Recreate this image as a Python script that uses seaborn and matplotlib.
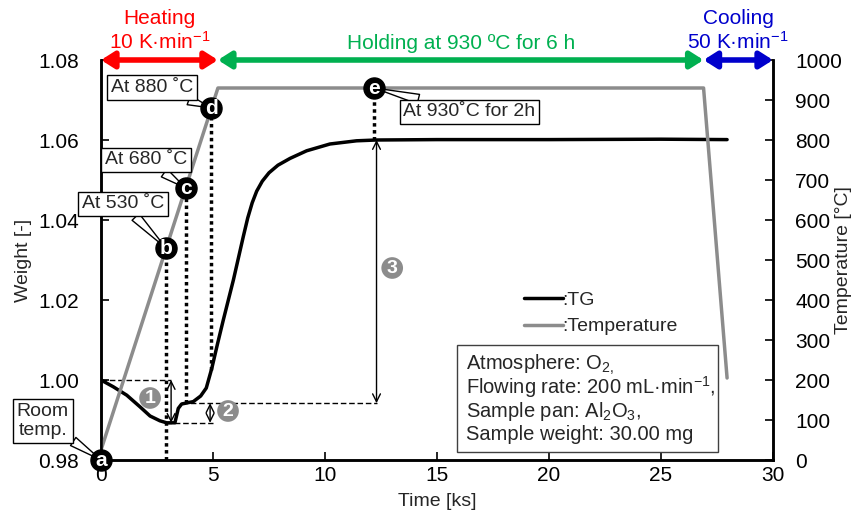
import numpy as np
import matplotlib
matplotlib.use("Agg")
import matplotlib.pyplot as plt
from matplotlib.lines import Line2D
from matplotlib.patches import Rectangle
import seaborn as sns

sns.set_theme(style="ticks")
plt.rcParams['font.family'] = ['Liberation Sans', 'DejaVu Sans']
plt.rcParams['mathtext.fontset'] = 'custom'
plt.rcParams['mathtext.rm'] = 'Liberation Sans'
plt.rcParams['mathtext.it'] = 'Liberation Sans:italic'
plt.rcParams['mathtext.bf'] = 'Liberation Sans:bold'
plt.rcParams['mathtext.default'] = 'regular'

# TG curve (time in ks, relative weight)
tg_time = [0, 0.55, 1.15, 1.74, 2.19, 2.63, 2.93, 3.30, 3.45, 3.60, 4.12, 4.45,
           4.70, 4.95, 5.20, 5.46, 5.91, 6.35, 6.55, 6.75, 6.95, 7.20, 7.50,
           7.90, 8.44, 9.18, 10.22, 11.41, 12.3, 15.0, 20.0, 25.0, 27.95]
tg_weight = [1.0000, 0.9983, 0.9962, 0.9933, 0.9910, 0.9898, 0.9893, 0.9893,
             0.9929, 0.9940, 0.9946, 0.9960, 0.9980, 1.0030, 1.0090, 1.0150,
             1.0250, 1.0358, 1.0405, 1.0443, 1.0472, 1.0497, 1.0518, 1.0537,
             1.0554, 1.0573, 1.0590, 1.0598, 1.0600, 1.0601, 1.0601, 1.0602,
             1.0601]

# temperature programme
temp_time = [0, 5.22, 26.9, 27.95]
temp_value = [25, 930, 930, 205]

# labelled points a-e on the temperature curve
point_names = ['a', 'b', 'c', 'd', 'e']
point_time = [0, 2.90, 3.78, 4.93, 12.2]
point_temp = [0, 530, 680, 880, 930]
point_notes = ['Room\ntemp.', 'At 530 ˚C', 'At 680 ˚C', 'At 880 ˚C', 'At 930˚C for 2h']
note_time = [-2.6, 0.98, 2.0, 2.27, 16.45]
note_temp = [97, 640, 750, 932, 870]

# weight change steps 1-3
w_start = 1.0000
w_min = 0.9893
w_shoulder = 0.9942
w_final = 1.0600

# stage bars at the top
stage_names = ['Heating\n10 K·min$^{-1}$', 'Holding at 930 ºC for 6 h', 'Cooling\n50 K·min$^{-1}$']
stage_start = [0, 5.22, 26.9]
stage_end = [5.22, 26.9, 30]
stage_colors = ['#FF0000', '#00B050', '#0000CC']

condition_lines = ["Atmosphere: O$_{2,}$",
                   "Flowing rate: 200 mL·min$^{-1}$,",
                   "Sample pan: Al$_2$O$_3$,",
                   "Sample weight: 30.00 mg"]

FS = 15
GREY = '#8c8c8c'

fig = plt.figure(figsize=(8.57, 5.12), dpi=100)
ax = fig.add_axes([101/857, 52/512, 672/857, 400/512])
ax2 = ax.twinx()

sns.lineplot(x=tg_time, y=tg_weight, ax=ax, color='black', lw=2.5, sort=False,
             estimator=None)
sns.lineplot(x=temp_time, y=temp_value, ax=ax2, color=GREY, lw=2.5, sort=False,
             estimator=None)

ax.set_xlim(0, 30)
ax.set_ylim(0.98, 1.08)
ax2.set_ylim(0, 1000)
ax.set_xticks(range(0, 31, 5))
ax.set_yticks(np.arange(0.98, 1.0801, 0.02))
ax.set_yticklabels([f"{v:.2f}" for v in np.arange(0.98, 1.0801, 0.02)])
ax2.set_yticks(range(0, 1001, 100))

for a in (ax, ax2):
    a.spines['top'].set_visible(False)
    for s in a.spines.values():
        s.set_linewidth(1.8)
        s.set_color('black')
ax.tick_params(axis='both', direction='in', length=6, width=1.2, labelsize=FS,
               colors='black')
ax.tick_params(axis='y', pad=16)
ax.tick_params(axis='x', pad=4)
ax2.tick_params(axis='y', direction='in', length=6, width=1.2, labelsize=FS,
                pad=16, colors='black')

ax.set_xlabel('Time [ks]', fontsize=14, labelpad=6)
ax.set_ylabel('Weight [-]', fontsize=14)
ax2.set_ylabel('Temperature [°C]', fontsize=14)
ax.yaxis.set_label_coords(-0.103, 0.5)
ax2.yaxis.set_label_coords(1.092, 0.5)


def t2w(temp):
    return 0.98 + temp / 10000


# dotted drop lines from b, c, d, e
tg_at = np.interp(point_time, tg_time, tg_weight)
ax.vlines(point_time[1], 0.98, t2w(point_temp[1]), colors='black', lw=2.5,
          linestyles=(0, (1, 1)))
for i in (2, 3, 4):
    ax.vlines(point_time[i], tg_at[i], t2w(point_temp[i]), colors='black', lw=2.5,
              linestyles=(0, (1, 1)))

# dashed reference levels
ax.hlines(w_start, 0, 3.13, colors='black', lw=1, linestyles=(0, (4, 2)))
ax.hlines(w_min, 2.9, 5.0, colors='black', lw=1, linestyles=(0, (4, 2)))
ax.hlines(w_shoulder, 3.6, 12.3, colors='black', lw=1, linestyles=(0, (4, 2)))

# double arrows for steps
steps = [(3.13, w_start, w_min, '1', 2.19, 0.9955),
         (4.87, w_shoulder, w_min, '2', 5.67, 0.99225),
         (12.3, w_final, w_shoulder, '3', 13.0, 1.028)]
for x, y0, y1, lab, lx, ly in steps:
    ax.annotate('', xy=(x, y0), xytext=(x, y1),
                arrowprops=dict(arrowstyle='<->', color='black', lw=1,
                                shrinkA=0, shrinkB=0, mutation_scale=14))
    ax.text(lx, ly, lab, color='white', fontsize=14, fontweight='bold',
            ha='center', va='center',
            bbox=dict(boxstyle='circle,pad=0.12', fc=GREY, ec='none'))

# labelled points with callouts
for name, t, T, note, nt, nT in zip(point_names, point_time, point_temp,
                                     point_notes, note_time, note_temp):
    ax2.annotate(note, xy=(t, T), xytext=(nt, nT), fontsize=FS - 1,
                 ha='center', va='center', annotation_clip=False, zorder=4,
                 linespacing=1.15,
                 bbox=dict(boxstyle='square,pad=0.2', fc='white', ec='black', lw=1),
                 arrowprops=dict(arrowstyle='wedge,tail_width=0.5', fc='white',
                                 ec='black', lw=1, shrinkA=0, shrinkB=0))
ax2.scatter(point_time, point_temp, s=230, color='black', zorder=5, clip_on=False)
for name, t, T in zip(point_names, point_time, point_temp):
    ax2.text(t, T, name, color='white', fontsize=15, fontweight='bold',
             ha='center', va='center', zorder=6)

# stage bars
for name, x0, x1, c in zip(stage_names, stage_start, stage_end, stage_colors):
    ax2.annotate('', xy=(x0, 1000), xytext=(x1, 1000), annotation_clip=False,
                 arrowprops=dict(arrowstyle='<|-|>,head_width=0.35,head_length=0.55',
                                 color=c, lw=4, shrinkA=0, shrinkB=0,
                                 mutation_scale=14))
    ax2.text((x0 + x1) / 2, 1018, name, color=c, fontsize=FS, ha='center',
             va='bottom', linespacing=1.15)

# legend
handles = [Line2D([], [], color='black', lw=2.5), Line2D([], [], color=GREY, lw=2.5)]
ax2.legend(handles, [':TG', ':Temperature'], loc='upper left',
           bbox_to_anchor=(0.603, 0.465), frameon=False, fontsize=FS - 1,
           handlelength=2.0, handletextpad=0.0, labelspacing=0.45)

# conditions box
ax.add_patch(Rectangle((15.89, 0.982), 27.54 - 15.89, 1.00875 - 0.982,
                       fc='white', ec='#404040', lw=1, zorder=4))
for line, yb in zip(condition_lines, [1.0026, 0.9965, 0.99075, 0.9850]):
    ax.text(16.30, yb, line, fontsize=14.5, ha='left', va='baseline', zorder=5)

fig.savefig('out.png', dpi=100)
